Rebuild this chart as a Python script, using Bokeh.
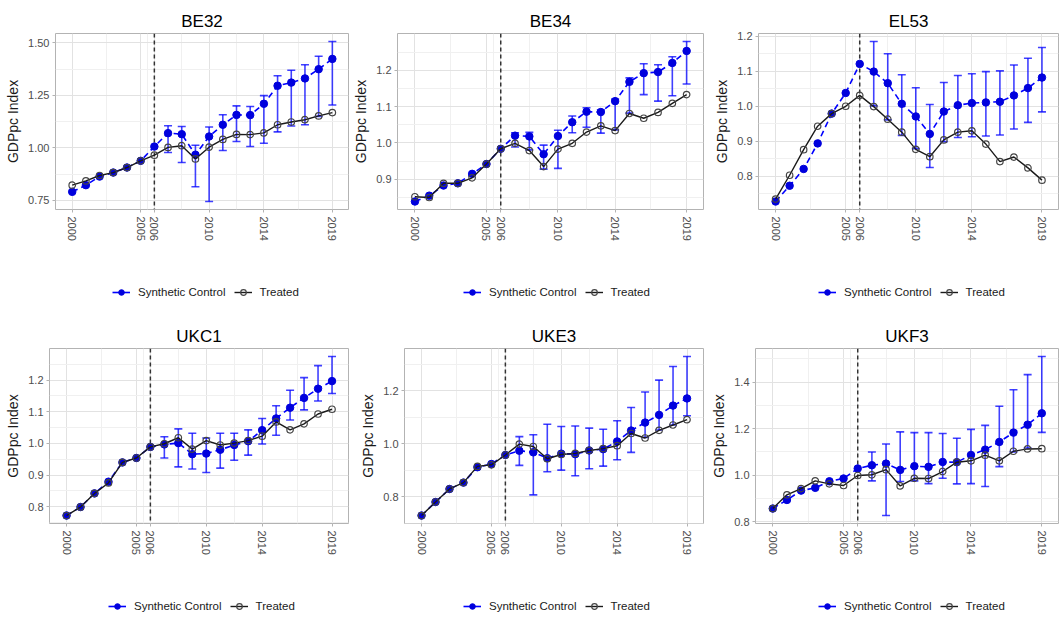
from bokeh.plotting import figure
from bokeh.models import (ColumnDataSource, FixedTicker, PrintfTickFormatter, Span,
                          Whisker, TeeHead, Legend, LegendItem, Range1d)
from bokeh.layouts import column, row
from bokeh.embed import file_html
from bokeh.resources import INLINE

# ---------------- data ----------------
YEARS = list(range(2000, 2020))
CI_YEARS = YEARS[7:]          # 2007..2019
TREAT_YEAR = 2006
X_TICKS = [2000, 2005, 2006, 2010, 2014, 2019]
X_MINOR = [2002.5, 2005.5, 2008, 2012, 2016.5]
X_LIMITS = (1998.78, 2020.18)

BE32_synthetic = [0.790, 0.822, 0.863, 0.882, 0.906, 0.938, 1.006, 1.070, 1.065, 0.967,
                  1.054, 1.110, 1.157, 1.156, 1.210, 1.296, 1.311, 1.331, 1.375, 1.424]
BE32_treated = [0.822, 0.842, 0.868, 0.882, 0.906, 0.938, 0.965, 1.002, 1.010, 0.947,
                1.003, 1.040, 1.064, 1.063, 1.071, 1.110, 1.123, 1.134, 1.152, 1.168]
BE32_ci_low = [0.978, 0.930, 0.814, 0.744, 0.987, 1.030, 1.006, 1.022, 1.076, 1.104, 1.110, 1.150, 1.204]
BE32_ci_high = [1.105, 1.102, 1.012, 1.099, 1.158, 1.200, 1.197, 1.249, 1.344, 1.370, 1.396, 1.437, 1.507]

BE34_synthetic = [0.839, 0.855, 0.883, 0.889, 0.915, 0.942, 0.984, 1.020, 1.018, 0.969,
                  1.019, 1.057, 1.086, 1.085, 1.115, 1.168, 1.192, 1.195, 1.220, 1.253]
BE34_treated = [0.852, 0.850, 0.889, 0.889, 0.904, 0.942, 0.984, 0.999, 0.979, 0.935,
                0.983, 0.999, 1.030, 1.047, 1.034, 1.081, 1.068, 1.084, 1.109, 1.133]
BE34_ci_low = [0.989, 0.981, 0.928, 0.930, 1.028, 1.043, 1.027, 1.036, 1.082, 1.133, 1.115, 1.130, 1.162]
BE34_ci_high = [1.028, 1.029, 0.994, 1.035, 1.074, 1.097, 1.091, 1.121, 1.179, 1.218, 1.215, 1.237, 1.279]

EL53_synthetic = [0.728, 0.773, 0.821, 0.894, 0.979, 1.038, 1.121, 1.099, 1.066, 1.007,
                  0.971, 0.921, 0.985, 1.003, 1.009, 1.011, 1.013, 1.031, 1.052, 1.082]
EL53_treated = [0.735, 0.803, 0.876, 0.943, 0.979, 1.000, 1.031, 0.999, 0.963, 0.926,
                0.877, 0.856, 0.904, 0.926, 0.930, 0.892, 0.842, 0.855, 0.824, 0.789]
EL53_ci_low = [1.001, 0.961, 0.917, 0.879, 0.825, 0.899, 0.911, 0.913, 0.915, 0.918, 0.935, 0.954, 0.984]
EL53_ci_high = [1.185, 1.150, 1.090, 1.053, 1.005, 1.068, 1.088, 1.093, 1.099, 1.101, 1.118, 1.137, 1.168]

UKC1_synthetic = [0.772, 0.799, 0.842, 0.879, 0.940, 0.954, 0.989, 0.997, 1.001, 0.966,
                  0.968, 0.980, 0.995, 1.007, 1.042, 1.079, 1.113, 1.144, 1.173, 1.197]
UKC1_treated = [0.772, 0.799, 0.842, 0.875, 0.940, 0.954, 0.989, 0.999, 1.018, 0.982,
                1.009, 0.995, 1.001, 1.009, 1.023, 1.068, 1.043, 1.062, 1.093, 1.108]
UKC1_ci_low = [0.954, 0.926, 0.919, 0.908, 0.922, 0.947, 0.963, 0.998, 1.026, 1.074, 1.106, 1.134, 1.158]
UKC1_ci_high = [1.021, 1.046, 1.032, 1.017, 1.032, 1.032, 1.043, 1.079, 1.119, 1.168, 1.208, 1.246, 1.275]

UKE3_synthetic = [0.730, 0.781, 0.830, 0.854, 0.912, 0.924, 0.958, 0.974, 0.968, 0.946,
                  0.963, 0.961, 0.975, 0.980, 1.009, 1.050, 1.080, 1.109, 1.144, 1.171]
UKE3_treated = [0.730, 0.781, 0.830, 0.854, 0.915, 0.921, 0.958, 0.999, 0.990, 0.944,
                0.960, 0.964, 0.975, 0.982, 0.993, 1.039, 1.022, 1.051, 1.071, 1.091]
UKE3_ci_low = [0.919, 0.808, 0.895, 0.901, 0.880, 0.906, 0.916, 0.940, 0.968, 1.024, 1.052, 1.071, 1.106]
UKE3_ci_high = [1.027, 1.034, 1.074, 1.065, 1.067, 1.059, 1.055, 1.087, 1.137, 1.195, 1.240, 1.291, 1.329]

UKF3_synthetic = [0.857, 0.894, 0.934, 0.946, 0.974, 0.986, 1.029, 1.043, 1.050, 1.023,
                  1.039, 1.036, 1.057, 1.056, 1.087, 1.110, 1.143, 1.183, 1.217, 1.266]
UKF3_treated = [0.857, 0.916, 0.943, 0.976, 0.963, 0.956, 0.999, 1.002, 1.024, 0.954,
                0.987, 0.986, 1.016, 1.056, 1.062, 1.086, 1.062, 1.103, 1.113, 1.114]
UKF3_ci_low = [0.976, 0.827, 0.973, 0.976, 0.964, 0.987, 0.963, 0.964, 0.952, 1.037, 1.100, 1.117, 1.184]
UKF3_ci_high = [1.100, 1.134, 1.186, 1.183, 1.183, 1.179, 1.159, 1.197, 1.214, 1.296, 1.367, 1.432, 1.510]

Y_TICKS = {
    "BE32": ([0.75, 1.00, 1.25, 1.50], [0.875, 1.125, 1.375], "%.2f"),
    "BE34": ([0.9, 1.0, 1.1, 1.2], [0.85, 0.95, 1.05, 1.15, 1.25], "%.1f"),
    "EL53": ([0.8, 0.9, 1.0, 1.1, 1.2], [0.75, 0.85, 0.95, 1.05, 1.15], "%.1f"),
    "UKC1": ([0.8, 0.9, 1.0, 1.1, 1.2], [0.75, 0.85, 0.95, 1.05, 1.15, 1.25], "%.1f"),
    "UKE3": ([0.8, 1.0, 1.2], [0.7, 0.9, 1.1, 1.3], "%.1f"),
    "UKF3": ([0.8, 1.0, 1.2, 1.4], [0.9, 1.1, 1.3, 1.5], "%.1f"),
}

SERIES = {
    "BE32": (BE32_synthetic, BE32_treated, BE32_ci_low, BE32_ci_high),
    "BE34": (BE34_synthetic, BE34_treated, BE34_ci_low, BE34_ci_high),
    "EL53": (EL53_synthetic, EL53_treated, EL53_ci_low, EL53_ci_high),
    "UKC1": (UKC1_synthetic, UKC1_treated, UKC1_ci_low, UKC1_ci_high),
    "UKE3": (UKE3_synthetic, UKE3_treated, UKE3_ci_low, UKE3_ci_high),
    "UKF3": (UKF3_synthetic, UKF3_treated, UKF3_ci_low, UKF3_ci_high),
}
LEGEND_LABELS = ["Synthetic Control", "Treated"]

# ---------------- style / layout ----------------
FONT = "Liberation Sans"
BLUE = "#0000ff"
# name, width, border_left, border_right, legend_x
ROW1 = [("BE32", 350, 55, 2, 112), ("BE34", 358, 44, 5, 113), ("EL53", 354, 50, 4, 110)]
ROW2 = [("UKC1", 350, 49, 2, 108), ("UKE3", 358, 54, 5, 113), ("UKF3", 354, 42, 4, 110)]
# panel height, border top, border bottom, legend strip height, legend y
ROW1_GEOM = (250, 33, 41, 60, 11)
ROW2_GEOM = (254, 38, 41, 51, 2)


def style_symbols(p, src, dashed=True):
    syn_line = p.line("year", "syn", source=src, line_color=BLUE,
                      line_dash="6 4" if dashed else "solid", line_width=1.6)
    syn_pts = p.scatter("year", "syn", source=src, size=7.5, fill_color="#0000dd",
                        line_color="#0000dd")
    trt_line = p.line("year", "trt", source=src, line_color="#1a1a1a", line_width=1.4)
    trt_pts = p.scatter("year", "trt", source=src, size=6.5, fill_color=None,
                        line_color="#444444", line_width=1.2)
    return syn_line, syn_pts, trt_line, trt_pts


def make_panel(name, width, bl, br, height, bt, bb):
    syn, trt, lo, hi = SERIES[name]
    yticks, yminor, yfmt = Y_TICKS[name]
    vals = syn + trt + lo + hi
    vmin, vmax = min(vals), max(vals)
    pad = 0.05 * (vmax - vmin)

    p = figure(width=width, height=height, output_backend="svg", toolbar_location=None,
               x_range=Range1d(*X_LIMITS), y_range=Range1d(vmin - pad, vmax + pad),
               min_border_left=bl, min_border_right=br, min_border_top=bt,
               min_border_bottom=bb, title=name)
    p.background_fill_color = "white"
    p.border_fill_color = "white"
    p.outline_line_color = "#b3b3b3"
    p.outline_line_width = 1

    p.title.align = "center"
    p.title.text_font = FONT
    p.title.text_font_size = "17px"
    p.title.text_font_style = "normal"
    p.title.text_color = "#000000"
    p.title.standoff = 6

    xt = FixedTicker(ticks=X_TICKS, minor_ticks=X_MINOR)
    yt = FixedTicker(ticks=yticks, minor_ticks=yminor)
    p.xaxis.ticker = xt
    p.yaxis.ticker = yt
    p.xgrid.ticker = xt
    p.ygrid.ticker = yt
    p.xaxis.formatter = PrintfTickFormatter(format="%d")
    p.yaxis.formatter = PrintfTickFormatter(format=yfmt)

    for g in (p.xgrid, p.ygrid):
        g.grid_line_color = "#e2e2e2"
        g.grid_line_width = 1
        g.minor_grid_line_color = "#f0f0f0"
        g.minor_grid_line_width = 1

    for ax in (p.xaxis, p.yaxis):
        ax.axis_line_color = None
        ax.major_tick_line_color = "#b3b3b3"
        ax.major_tick_out = 3
        ax.major_tick_in = 0
        ax.minor_tick_line_color = None
        ax.major_label_text_font = FONT
        ax.major_label_text_font_size = "11px"
        ax.major_label_text_color = "#4d4d4d"
        ax.major_label_standoff = 3
    p.yaxis.major_label_standoff = 2
    p.xaxis.major_label_orientation = "vertical"
    p.yaxis.axis_label = "GDPpc Index"
    p.yaxis.axis_label_text_font = FONT
    p.yaxis.axis_label_text_font_size = "14px"
    p.yaxis.axis_label_text_font_style = "normal"
    p.yaxis.axis_label_text_color = "#1a1a1a"
    p.yaxis.axis_label_standoff = 4

    p.add_layout(Span(location=TREAT_YEAR, dimension="height", line_color="#333333",
                      line_dash="4 3", line_width=1.5, level="underlay"))

    src = ColumnDataSource(dict(year=YEARS, syn=syn, trt=trt))
    ci = ColumnDataSource(dict(year=CI_YEARS, lo=lo, hi=hi))

    p.add_layout(Whisker(source=ci, base="year", lower="lo", upper="hi",
                         line_color=BLUE, line_alpha=0.75, line_width=1.6, level="underlay",
                         upper_head=TeeHead(size=8, line_color=BLUE, line_alpha=0.75, line_width=1.6),
                         lower_head=TeeHead(size=8, line_color=BLUE, line_alpha=0.75, line_width=1.6)))
    style_symbols(p, src)
    return p, src


def make_legend_strip(src, width, height, leg_x, leg_y):
    # the strip's ranges keep the series themselves out of view; only the legend keys show
    lp = figure(width=width, height=height, output_backend="svg", toolbar_location=None,
                x_range=Range1d(0, 1), y_range=Range1d(0, 1), x_axis_type=None,
                y_axis_type=None, min_border=0)
    lp.grid.visible = False
    lp.outline_line_color = None
    lp.background_fill_color = "white"
    lp.border_fill_color = "white"
    syn_line, syn_pts, trt_line, trt_pts = style_symbols(lp, src, dashed=False)
    legend = Legend(items=[LegendItem(label=LEGEND_LABELS[0], renderers=[syn_line, syn_pts]),
                           LegendItem(label=LEGEND_LABELS[1], renderers=[trt_line, trt_pts])],
                    location=(leg_x, leg_y), orientation="horizontal",
                    border_line_color=None, background_fill_alpha=0, padding=0, margin=0,
                    glyph_width=18, glyph_height=14, label_height=14, label_standoff=8,
                    spacing=8, label_text_font=FONT, label_text_font_size="11.5px",
                    label_text_color="#1a1a1a")
    lp.add_layout(legend)
    return lp


def make_row(spec, geom):
    h, bt, bb, lh, ly = geom
    panels, strips = [], []
    for n, w, bl, br, lx in spec:
        p, src = make_panel(n, w, bl, br, h, bt, bb)
        panels.append(p)
        strips.append(make_legend_strip(src, w, lh, lx, ly))
    return column(row(*panels), row(*strips))


layout = column(make_row(ROW1, ROW1_GEOM), make_row(ROW2, ROW2_GEOM))

open("out.html", "w").write(file_html(layout, INLINE))
